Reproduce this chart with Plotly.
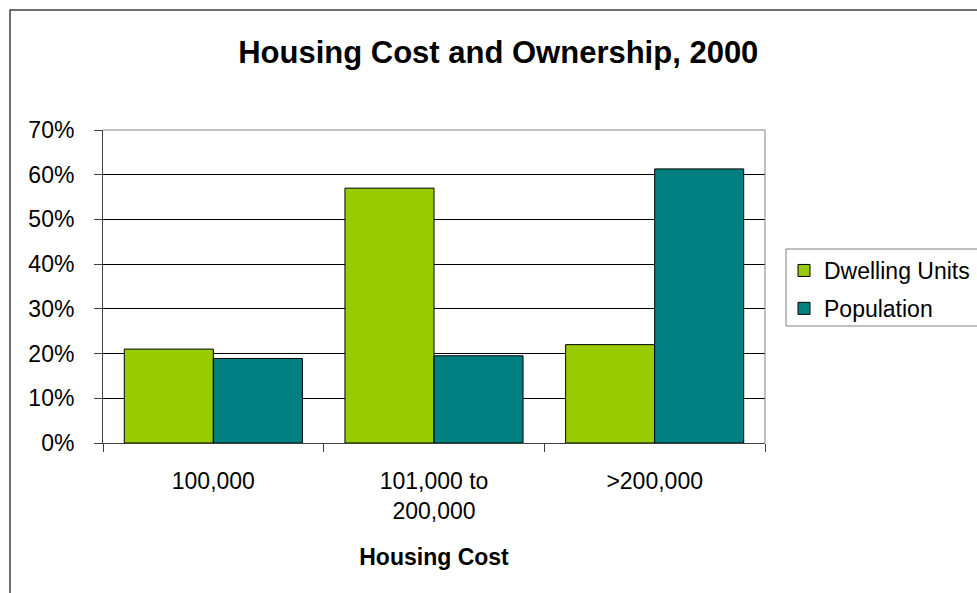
import plotly.graph_objects as go

# Housing cost brackets and the share of dwelling units / population in each
categories = ["100,000", "101,000 to<br>200,000", ">200,000"]
dwelling_units = [21.0, 57.0, 22.0]
population = [18.9, 19.5, 61.3]
y_ticks = [0, 10, 20, 30, 40, 50, 60, 70]
y_tick_labels = [f"{v}%" for v in y_ticks]

FONT = "Arial, Liberation Sans, sans-serif"

fig = go.Figure()
fig.add_trace(go.Bar(
    x=categories, y=dwelling_units, name="Dwelling Units",
    marker=dict(color="#99CC00", line=dict(color="#000000", width=1)),
    legendgroup="a",
))
fig.add_trace(go.Bar(
    x=categories, y=population, name="Population",
    marker=dict(color="#008080", line=dict(color="#000000", width=1)),
    legendgroup="b",
))

W, H = 977, 593
L, R, T, B = 103, 212, 130, 150
pw, ph = W - L - R, H - T - B


def px_x(v):
    return (v - L) / pw


def px_y(v):
    return (H - B - v) / ph


fig.update_layout(
    width=W, height=H,
    margin=dict(l=L, r=R, t=T, b=B, autoexpand=False),
    paper_bgcolor="white", plot_bgcolor="white",
    barmode="group", bargap=0.193, bargroupgap=0,
    font=dict(family=FONT, color="#000000", size=23),
    title=dict(
        text="<b>Housing Cost and Ownership, 2000</b>",
        font=dict(family=FONT, size=31, color="#000000"),
        x=0.51, xref="container", xanchor="center",
        y=1 - 52 / H, yref="container", yanchor="middle",
    ),
    legend=dict(
        x=px_x(784), xanchor="left",
        y=px_y(249), yanchor="top",
        borderwidth=0, bgcolor="rgba(0,0,0,0)",
        font=dict(family=FONT, size=23, color="#000000"),
        tracegroupgap=5,
    ),
    showlegend=True,
)

fig.update_xaxes(
    type="category",
    showline=True, linecolor="#404040", linewidth=1,
    ticks="outside", tickson="boundaries", ticklen=8, tickcolor="#404040",
    tickfont=dict(family=FONT, size=23),
    ticklabelstandoff=17,
    showgrid=False, zeroline=False,
    title=dict(text="<b>Housing Cost</b>", font=dict(family=FONT, size=23), standoff=26),
)
fig.update_yaxes(
    range=[0, 70],
    tickvals=y_ticks, ticktext=y_tick_labels,
    showline=True, linecolor="#404040", linewidth=1,
    ticks="outside", ticklen=8, tickcolor="#404040",
    tickfont=dict(family=FONT, size=23),
    ticklabelstandoff=15,
    showgrid=True, gridcolor="#000000", gridwidth=1,
    zeroline=False,
)

# Plot-area frame on the top and right edges
fig.add_shape(type="line", xref="paper", yref="paper", x0=0, x1=1, y0=1, y1=1,
              line=dict(color="#808080", width=1), layer="above")
fig.add_shape(type="line", xref="paper", yref="paper", x0=1, x1=1, y0=0, y1=1,
              line=dict(color="#808080", width=1), layer="above")

# Legend frame, running past the right edge of the page
fig.add_shape(type="rect", xref="paper", yref="paper",
              x0=px_x(786), x1=px_x(W + 20), y0=px_y(326), y1=px_y(249),
              line=dict(color="#808080", width=1), layer="below")

# Outer chart border (runs past the right and bottom edges of the page)
fig.add_shape(type="rect", xref="paper", yref="paper",
              x0=px_x(10), x1=px_x(W + 20), y0=px_y(H + 20), y1=px_y(10),
              line=dict(color="#404040", width=1.5), layer="below")

fig.write_html("out.html")
